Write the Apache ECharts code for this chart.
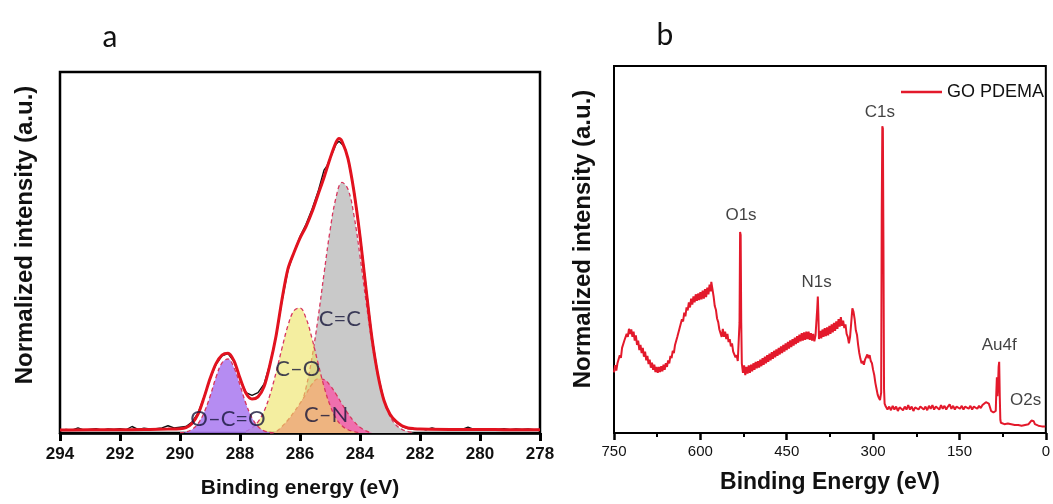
<!DOCTYPE html>
<html>
<head>
<meta charset="utf-8">
<title>XPS</title>
<script src="https://cdn.jsdelivr.net/npm/echarts@6/dist/echarts.min.js"></script>
<style>
  html, body { margin: 0; padding: 0; background: #fff; }
  #main { width: 1053px; height: 504px; }
</style>
</head>
<body>
<div id="main"></div>
<script>
// ---- panel a : C1s high resolution (binding energy, normalized intensity)
var c1sTicks = [294, 292, 290, 288, 286, 284, 282, 280, 278];

var measured = [
  [294.0,0.006],[293.8,0.010],[293.6,0.008],[293.4,0.014],[293.2,0.008],[293.0,0.010],
  [292.8,0.012],[292.6,0.008],[292.4,0.011],[292.2,0.010],[292.0,0.012],[291.8,0.009],
  [291.6,0.018],[291.4,0.010],[291.2,0.013],[291.0,0.011],[290.8,0.012],[290.6,0.014],
  [290.4,0.020],[290.2,0.014],[290.0,0.016],[289.8,0.018],[289.6,0.030],[289.4,0.055],
  [289.2,0.100],[289.0,0.150],[288.8,0.190],[288.6,0.214],[288.4,0.220],[288.2,0.198],
  [288.0,0.150],[287.8,0.112],[287.6,0.104],[287.4,0.112],[287.2,0.135],[287.0,0.192],
  [286.8,0.266],[286.6,0.366],[286.4,0.452],[286.2,0.500],[286.0,0.544],[285.8,0.578],
  [285.6,0.620],[285.4,0.668],[285.2,0.728],[285.1,0.740],[285.0,0.760],[284.8,0.800],
  [284.7,0.808],[284.6,0.800],[284.5,0.790],[284.4,0.760],[284.2,0.672],[284.0,0.550],
  [283.8,0.405],[283.6,0.265],[283.4,0.160],[283.2,0.090],[283.0,0.050],[282.8,0.030],
  [282.6,0.018],[282.4,0.012],[282.2,0.010],[282.0,0.012],[281.8,0.009],[281.6,0.014],
  [281.4,0.010],[281.2,0.012],[281.0,0.009],[280.8,0.011],[280.6,0.010],[280.4,0.016],
  [280.2,0.010],[280.0,0.012],[279.8,0.009],[279.6,0.011],[279.4,0.010],[279.2,0.012],
  [279.0,0.009],[278.8,0.011],[278.6,0.010],[278.4,0.011],[278.2,0.009],[278.0,0.010]
];

var envelope = [
  [294.0,0.008],[293.0,0.009],[292.0,0.009],[291.0,0.010],[290.4,0.011],
  [290.0,0.012],[289.8,0.015],[289.6,0.026],[289.4,0.052],[289.2,0.098],[289.0,0.150],
  [288.8,0.192],[288.6,0.216],[288.4,0.221],[288.2,0.200],[288.0,0.152],[287.8,0.110],
  [287.6,0.094],[287.4,0.100],[287.2,0.128],[287.0,0.190],[286.8,0.268],[286.6,0.370],
  [286.4,0.455],[286.2,0.500],[286.0,0.540],[285.8,0.572],[285.6,0.612],[285.4,0.660],
  [285.2,0.708],[285.0,0.760],[284.8,0.805],[284.7,0.816],[284.6,0.808],[284.4,0.760],
  [284.2,0.668],[284.0,0.545],[283.8,0.400],[283.6,0.262],[283.4,0.160],[283.2,0.090],
  [283.0,0.052],[282.8,0.032],[282.6,0.020],[282.4,0.014],[282.2,0.012],[282.0,0.011],
  [281.0,0.010],[280.0,0.010],[279.0,0.009],[278.0,0.009]
];

var peakOCO = [
  [290.0,0.001],[289.8,0.003],[289.6,0.010],[289.4,0.026],[289.2,0.056],[289.0,0.101],
  [288.8,0.154],[288.6,0.194],[288.4,0.205],[288.2,0.181],[288.0,0.133],[287.8,0.081],
  [287.6,0.042],[287.4,0.018],[287.2,0.006],[287.0,0.002],[286.8,0.000]
];
var peakCO = [
  [287.8,0.005],[287.6,0.014],[287.4,0.031],[287.2,0.060],[287.0,0.106],[286.8,0.167],
  [286.6,0.235],[286.4,0.298],[286.2,0.339],[286.0,0.346],[285.8,0.318],[285.6,0.262],
  [285.4,0.194],[285.2,0.129],[285.0,0.077],[284.8,0.041],[284.6,0.020],[284.4,0.009],
  [284.2,0.004],[284.0,0.000]
];
var peakCN = [
  [287.0,0.000],[286.8,0.004],[286.6,0.018],[286.4,0.036],[286.2,0.058],[286.0,0.082],
  [285.8,0.108],[285.6,0.135],[285.4,0.150],[285.2,0.148],[285.0,0.132],[284.8,0.108],
  [284.6,0.080],[284.4,0.054],[284.2,0.032],[284.0,0.016],[283.8,0.006],[283.6,0.000]
];
var peakCC = [
  [286.6,0.008],[286.4,0.016],[286.2,0.035],[286.0,0.069],[285.8,0.125],[285.6,0.209],
  [285.4,0.317],[285.2,0.441],[285.0,0.560],[284.8,0.652],[284.6,0.694],[284.4,0.675],
  [284.2,0.602],[284.0,0.490],[283.8,0.365],[283.6,0.249],[283.4,0.155],[283.2,0.089],
  [283.0,0.046],[282.8,0.022],[282.6,0.010],[282.4,0.004],[282.2,0.000]
];

var c1sLabels = [
  [288.4, 0.038, 'O\u2013C=O'],
  [286.07, 0.178, 'C\u2013O'],
  [285.13, 0.049, 'C\u2013N'],
  [284.67, 0.315, 'C=C']
];

// ---- panel b : survey spectrum
var surveyTicks = [750, 600, 450, 300, 150, 0];

var survey = [
  [750,0.165],[748,0.185],[746,0.170],[744,0.190],[742,0.188],[740,0.212],[738,0.205],
  [736,0.232],[734,0.228],[732,0.252],[730,0.248],[728,0.270],[726,0.262],[724,0.284],
  [722,0.270],[720,0.282],[718,0.262],[716,0.276],[714,0.252],[712,0.266],[710,0.240],
  [708,0.252],[706,0.226],[704,0.240],[702,0.218],[700,0.232],[698,0.208],[696,0.222],
  [694,0.198],[692,0.210],[690,0.188],[688,0.200],[686,0.178],[684,0.192],[682,0.172],
  [680,0.186],[678,0.166],[676,0.180],[674,0.164],[672,0.180],[670,0.166],[668,0.182],
  [666,0.168],[664,0.186],[662,0.172],[660,0.190],[658,0.180],[656,0.198],[654,0.190],
  [652,0.210],[650,0.204],[648,0.224],[646,0.218],[644,0.240],[642,0.236],[640,0.262],
  [638,0.258],[636,0.286],[634,0.282],[632,0.310],[630,0.304],[628,0.328],[626,0.318],
  [624,0.342],[622,0.334],[620,0.356],[618,0.342],[616,0.366],[614,0.350],[612,0.372],
  [610,0.356],[608,0.378],[606,0.360],[604,0.380],[602,0.362],[600,0.384],[598,0.364],
  [596,0.388],[594,0.366],[592,0.392],[590,0.370],[588,0.396],[586,0.378],[584,0.404],
  [582,0.386],[581,0.412],[579,0.392],[577,0.372],[575,0.346],[573,0.336],[571,0.312],
  [569,0.302],[567,0.282],[565,0.278],[563,0.262],[561,0.284],[559,0.262],[557,0.276],
  [555,0.256],[553,0.270],[551,0.248],[549,0.256],[547,0.236],[545,0.244],[543,0.222],
  [541,0.226],[539,0.206],[537,0.212],[535,0.196],[533,0.200],[532,0.300],[531,0.548],
  [530,0.540],[529,0.300],[528,0.190],[526,0.164],[524,0.184],[522,0.158],[520,0.180],
  [518,0.162],[516,0.184],[514,0.164],[512,0.186],[510,0.168],[508,0.190],[506,0.172],
  [504,0.194],[502,0.176],[500,0.196],[498,0.178],[496,0.200],[494,0.182],[492,0.204],
  [490,0.186],[488,0.208],[486,0.190],[484,0.212],[482,0.194],[480,0.216],[478,0.198],
  [476,0.220],[474,0.202],[472,0.224],[470,0.206],[468,0.228],[466,0.210],[464,0.232],
  [462,0.214],[460,0.236],[458,0.218],[456,0.240],[454,0.222],[452,0.244],[450,0.226],
  [448,0.248],[446,0.230],[444,0.252],[442,0.234],[440,0.256],[438,0.238],[436,0.260],
  [434,0.242],[432,0.264],[430,0.246],[428,0.268],[426,0.250],[424,0.272],[422,0.252],
  [420,0.274],[418,0.254],[416,0.276],[414,0.256],[412,0.276],[410,0.254],[408,0.272],
  [406,0.252],[404,0.270],[402,0.250],[400,0.266],[398,0.262],[397,0.340],[396,0.372],
  [395,0.320],[394,0.256],[392,0.278],[390,0.258],[388,0.282],[386,0.262],[384,0.286],
  [382,0.264],[380,0.288],[378,0.266],[376,0.292],[374,0.270],[372,0.296],[370,0.274],
  [368,0.300],[366,0.278],[364,0.304],[362,0.284],[360,0.310],[358,0.290],[356,0.316],
  [354,0.292],[352,0.306],[350,0.286],[348,0.296],[346,0.270],[344,0.262],[342,0.244],
  [340,0.262],[338,0.300],[336,0.340],[334,0.330],[332,0.310],[330,0.280],[328,0.268],
  [326,0.240],[324,0.218],[322,0.202],[320,0.190],[318,0.196],[316,0.186],[314,0.200],
  [312,0.196],[310,0.214],[308,0.204],[306,0.212],[304,0.196],[302,0.190],[300,0.172],
  [298,0.158],[296,0.136],[294,0.120],[292,0.104],[290,0.096],[288,0.090],[286,0.110],
  [285,0.600],[284,0.836],[283,0.830],[282,0.500],[281,0.120],[280,0.080],[278,0.072],
  [275,0.064],[272,0.072],[269,0.062],[266,0.074],[263,0.064],[260,0.072],[257,0.060],
  [254,0.070],[251,0.074],[248,0.062],[245,0.072],[242,0.064],[239,0.076],[236,0.064],
  [233,0.072],[230,0.060],[227,0.070],[224,0.074],[221,0.064],[218,0.072],[215,0.076],
  [212,0.064],[209,0.072],[206,0.062],[203,0.074],[200,0.066],[197,0.076],[194,0.064],
  [191,0.072],[188,0.074],[185,0.064],[182,0.076],[179,0.066],[176,0.074],[173,0.064],
  [170,0.072],[167,0.078],[164,0.066],[161,0.074],[158,0.064],[155,0.072],[152,0.076],
  [149,0.066],[146,0.074],[143,0.064],[140,0.072],[137,0.076],[134,0.066],[131,0.074],
  [128,0.064],[125,0.072],[122,0.076],[119,0.066],[116,0.074],[113,0.068],[110,0.076],
  [107,0.078],[104,0.084],[101,0.086],[99,0.080],[97,0.070],[95,0.060],[93,0.056],
  [91,0.056],[89,0.058],[87,0.060],[86,0.110],[85,0.152],[84,0.100],[83,0.130],
  [82,0.180],[81,0.194],[80,0.100],[79,0.036],[78,0.028],[75,0.028],[72,0.024],
  [69,0.028],[66,0.026],[63,0.030],[60,0.024],[57,0.028],[54,0.022],[51,0.026],
  [48,0.022],[45,0.026],[42,0.020],[39,0.024],[36,0.022],[33,0.026],[30,0.024],
  [27,0.028],[25,0.034],[23,0.038],[21,0.032],[19,0.024],[16,0.022],[13,0.020],
  [10,0.022],[7,0.018],[4,0.020],[1,0.018],[0,0.018]
];

var surveyLabels = [
  [529.4, 0.594, 'O1s'],
  [398, 0.41, 'N1s'],
  [288.3, 0.875, 'C1s'],
  [80.9, 0.238, 'Au4f'],
  [35.1, 0.09, 'O2s']
];

var chart = echarts.init(document.getElementById('main'));

var sans = '"Liberation Sans", Arial, sans-serif';
var dashRed = '#d8365e';

function component(name, data, fill, z) {
  return {
    name: name, type: 'line', xAxisIndex: 0, yAxisIndex: 0,
    data: data, smooth: 0.4, symbol: 'none', z: z,
    lineStyle: { color: dashRed, width: 1.3, type: [4, 3] },
    areaStyle: { color: fill, opacity: 1 }
  };
}

function yAxisFor(index, gap, shift) {
  return {
    gridIndex: index, type: 'value', min: 0, max: 1,
    name: 'Normalized intensity (a.u.)', nameLocation: 'middle', nameGap: gap,
    nameTextStyle: {
      fontFamily: sans, fontWeight: 'bold', fontSize: 24, color: '#111',
      padding: [0, 0, 0, shift]
    },
    axisLine: { show: false }, axisTick: { show: false },
    axisLabel: { show: false }, splitLine: { show: false }
  };
}

option = {
  animation: false,
  backgroundColor: '#fff',
  grid: [
    { left: 60, right: 513, top: 72, bottom: 67, show: true, borderColor: '#000', borderWidth: 2.5 },
    { left: 614, right: 1, top: 66, bottom: 71, show: true, borderColor: '#000', borderWidth: 2 }
  ],
  legend: {
    data: [{ name: 'GO PDEMA', icon: 'rect' }],
    left: 896, top: 78,
    itemWidth: 41, itemHeight: 2.5, itemGap: 4,
    textStyle: { fontFamily: sans, fontSize: 18, color: '#111' }
  },
  xAxis: [
    {
      gridIndex: 0, type: 'value', min: 278, max: 294, interval: 2, inverse: true,
      name: 'Binding energy (eV)', nameLocation: 'middle', nameGap: 45,
      nameTextStyle: { fontFamily: sans, fontWeight: 'bold', fontSize: 21, color: '#111' },
      axisLine: { lineStyle: { color: '#000', width: 2.5 } },
      axisTick: { show: true, inside: false, length: 8, lineStyle: { color: '#000', width: 3 } },
      axisLabel: {
        margin: 13, fontFamily: sans, fontWeight: 'bold', fontSize: 17, color: '#111',
        formatter: function (v) { return c1sTicks.indexOf(v) >= 0 ? String(v) : ''; }
      },
      splitLine: { show: false }
    },
    {
      gridIndex: 1, type: 'value', min: 0, max: 750, interval: 150, inverse: true,
      name: 'Binding Energy (eV)', nameLocation: 'middle', nameGap: 38,
      nameTextStyle: { fontFamily: sans, fontWeight: 'bold', fontSize: 23, color: '#111' },
      axisLine: { lineStyle: { color: '#000', width: 2 } },
      axisTick: { show: true, inside: false, length: 7, lineStyle: { color: '#000', width: 2.5 } },
      minorTick: { show: true, splitNumber: 2, length: 4, lineStyle: { color: '#000', width: 2 } },
      axisLabel: {
        margin: 11, fontFamily: sans, fontSize: 15, color: '#111',
        formatter: function (v) { return surveyTicks.indexOf(v) >= 0 ? String(v) : ''; }
      },
      splitLine: { show: false }
    }
  ],
  yAxis: [
    yAxisFor(0, 23, 35),
    yAxisFor(1, 19, 21)
  ],
  graphic: [
    { type: 'text', x: 110, y: 37, style: { text: 'a', fontFamily: 'Lato, sans-serif', fontSize: 30, fill: '#111', align: 'center', verticalAlign: 'middle' } },
    { type: 'text', x: 665, y: 35, style: { text: 'b', fontFamily: 'Lato, sans-serif', fontSize: 30, fill: '#111', align: 'center', verticalAlign: 'middle' } }
  ],
  series: [
    component('C=C', peakCC, '#c9c9c9', 2),
    component('C\u2013N', peakCN, '#ef6fae', 3),
    component('C\u2013O', peakCO, 'rgba(236,226,96,0.6)', 4),
    component('O\u2013C=O', peakOCO, 'rgba(168,120,240,0.85)', 5),
    {
      name: 'measured', type: 'line', xAxisIndex: 0, yAxisIndex: 0, data: measured,
      symbol: 'none', z: 6, lineStyle: { color: '#111', width: 1.4 }
    },
    {
      name: 'fit', type: 'line', xAxisIndex: 0, yAxisIndex: 0, data: envelope,
      smooth: 0.3, symbol: 'none', z: 7, lineStyle: { color: '#e2121f', width: 3 }
    },
    {
      name: 'labels a', type: 'scatter', xAxisIndex: 0, yAxisIndex: 0, symbolSize: 0, z: 9,
      data: c1sLabels,
      label: {
        show: true, position: 'inside', fontFamily: 'Lato, sans-serif', fontSize: 22, color: '#15153a',
        formatter: function (p) { return p.data[2]; }
      }
    },
    {
      name: 'GO PDEMA', type: 'line', xAxisIndex: 1, yAxisIndex: 1, data: survey,
      symbol: 'none', z: 5, lineStyle: { color: '#e3192b', width: 2 }, itemStyle: { color: '#e3192b' }
    },
    {
      name: 'labels b', type: 'scatter', xAxisIndex: 1, yAxisIndex: 1, symbolSize: 0, z: 9,
      data: surveyLabels,
      label: {
        show: true, position: 'inside', fontFamily: sans, fontSize: 17, color: '#111',
        formatter: function (p) { return p.data[2]; }
      }
    }
  ]
};

chart.setOption(option);
</script>
</body>
</html>
